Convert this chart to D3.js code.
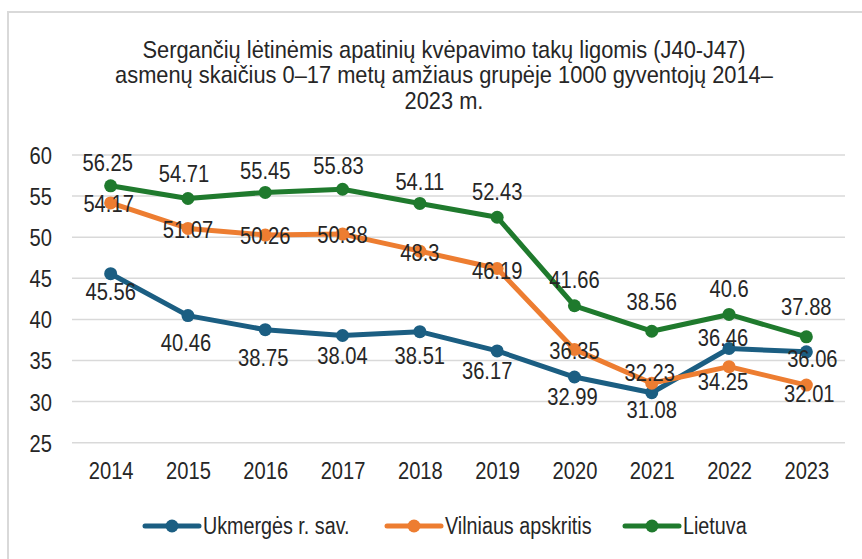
<!DOCTYPE html>
<html>
<head>
<meta charset="utf-8">
<script src="https://cdn.jsdelivr.net/npm/d3@7"></script>
<style>
  html, body { margin: 0; padding: 0; background: #fff; }
  svg text { font-family: "Liberation Sans", Arial, sans-serif; fill: #262626; }
</style>
</head>
<body>
<div id="chart"></div>
<script>
const years = ['2014', '2015', '2016', '2017', '2018', '2019', '2020', '2021', '2022', '2023']
const ukmerge = [45.56, 40.46, 38.75, 38.04, 38.51, 36.17, 32.99, 31.08, 36.46, 36.06]
const vilnius = [54.17, 51.07, 50.26, 50.38, 48.3, 46.19, 36.35, 32.23, 34.25, 32.01]
const lietuva = [56.25, 54.71, 55.45, 55.83, 54.11, 52.43, 41.66, 38.56, 40.6, 37.88]
const seriesNames = ['Ukmergės r. sav.', 'Vilniaus apskritis', 'Lietuva']
const yTicks = [25, 30, 35, 40, 45, 50, 55, 60]
const titleLines = [
  'Sergančių lėtinėmis apatinių kvėpavimo takų ligomis (J40-J47)',
  'asmenų skaičius 0–17 metų amžiaus grupėje 1000 gyventojų 2014–',
  '2023 m.'
]

;(function () {
  var width = 862
  var height = 559
  // the original uses a narrow face; squeeze a regular one to match
  var narrow = 0.84

  var svg = d3.select('#chart')
    .append('svg')
    .attr('width', width)
    .attr('height', height)

  // chart frame
  svg.append('rect')
    .attr('x', 8).attr('y', 12)
    .attr('width', 870).attr('height', 560)
    .attr('fill', '#fff')
    .attr('stroke', '#d9d9d9')
    .attr('stroke-width', 2)

  svg.append('g')
    .selectAll('text')
    .data(titleLines)
    .enter().append('text')
    .attr('class', 'title')
    .attr('x', 444)
    .attr('y', (d, i) => 58 + i * 25.5)
    .attr('text-anchor', 'middle')
    .attr('font-size', 24)
    .text(d => d)

  const x = d3.scalePoint()
    .domain(years)
    .range([72, 845])
    .padding(0.5)

  const y = d3.scaleLinear()
    .domain([25, 60])
    .range([442.7, 155])

  // gridlines
  svg.append('g')
    .selectAll('line')
    .data(yTicks)
    .enter().append('line')
    .attr('x1', 72).attr('x2', 845)
    .attr('y1', d => y(d)).attr('y2', d => y(d))
    .attr('stroke', '#d9d9d9')
    .attr('stroke-width', 1.5)

  var yAxis = d3.axisLeft(y).tickValues(yTicks).tickSize(0).tickPadding(0)
  var yg = svg.append('g')
    .attr('class', 'axis y-axis')
    .attr('transform', 'translate(52,0)')
    .call(yAxis)
  yg.select('.domain').remove()
  yg.selectAll('text').attr('font-size', 24).attr('dy', '0.35em').attr('fill', null)

  var xAxis = d3.axisBottom(x).tickSize(0).tickPadding(0)
  var xg = svg.append('g')
    .attr('class', 'axis x-axis')
    .attr('transform', 'translate(0,462)')
    .call(xAxis)
  xg.select('.domain').remove()
  xg.selectAll('text').attr('font-size', 24).attr('dy', '0.71em').attr('fill', null)
  svg.selectAll('.axis').attr('font-family', null).attr('font-size', null)

  const colors = ['#1b5e82', '#ed7d31', '#1f7a2d']
  const allSeries = [ukmerge, vilnius, lietuva]

  // label nudges (px) per point
  const labelDy = [
    [18, 27, 28, 20, 24, 20, 20, 17, -11, 7],
    [1, 1, 1, 1, 1, 2, 1, -11, 15, 9],
    [-23, -25, -22, -24, -22, -26, -26, -30, -26, -30]
  ]
  const labelDx = [
    [0, -2, -2, 0, 0, -10, -2, 0, -6, 6],
    [-2, 0, 0, 0, 0, 0, 0, -2, -6, 3],
    [-3, -4, 0, -4, 0, 0, 0, 0, 0, 0]
  ]

  const line = d3.line()
    .x((d, i) => x(years[i]))
    .y(d => y(d))

  allSeries.forEach((vals, s) => {
    svg.append('path')
      .datum(vals)
      .attr('fill', 'none')
      .attr('stroke', colors[s])
      .attr('stroke-width', 5)
      .attr('stroke-linejoin', 'round')
      .attr('d', line)

    svg.append('g')
      .selectAll('circle')
      .data(vals)
      .enter().append('circle')
      .attr('cx', (d, i) => x(years[i]))
      .attr('cy', d => y(d))
      .attr('r', 6.5)
      .attr('fill', colors[s])
  })

  allSeries.forEach((vals, s) => {
    svg.append('g')
      .selectAll('text')
      .data(vals)
      .enter().append('text')
      .attr('x', (d, i) => x(years[i]) + labelDx[s][i])
      .attr('y', (d, i) => y(d) + labelDy[s][i])
      .attr('dy', '0.35em')
      .attr('text-anchor', 'middle')
      .attr('font-size', 24)
      .text(d => d)
  })

  // legend
  const legendX = [145, 387, 625]
  const lg = svg.append('g')
  seriesNames.forEach((name, s) => {
    const g = lg.append('g').attr('transform', 'translate(' + legendX[s] + ',526)')
    g.append('line')
      .attr('x1', 0).attr('x2', 54)
      .attr('stroke', colors[s])
      .attr('stroke-width', 5)
      .attr('stroke-linecap', 'round')
    g.append('circle').attr('cx', 27).attr('r', 6.5).attr('fill', colors[s])
    g.append('text')
      .attr('x', 58)
      .attr('dy', '0.35em')
      .attr('font-size', 23.5)
      .text(name)
  })

  // squeeze every text horizontally around its own anchor point
  svg.selectAll('text').each(function () {
    var t = d3.select(this)
    var k = t.classed('title') ? 0.91 : narrow
    var tx = +t.attr('x') || 0
    var ty = +t.attr('y') || 0
    t.attr('transform', 'translate(' + tx + ',' + ty + ') scale(' + k + ',1) translate(' + (-tx) + ',' + (-ty) + ')')
  })
})()
</script>
</body>
</html>
